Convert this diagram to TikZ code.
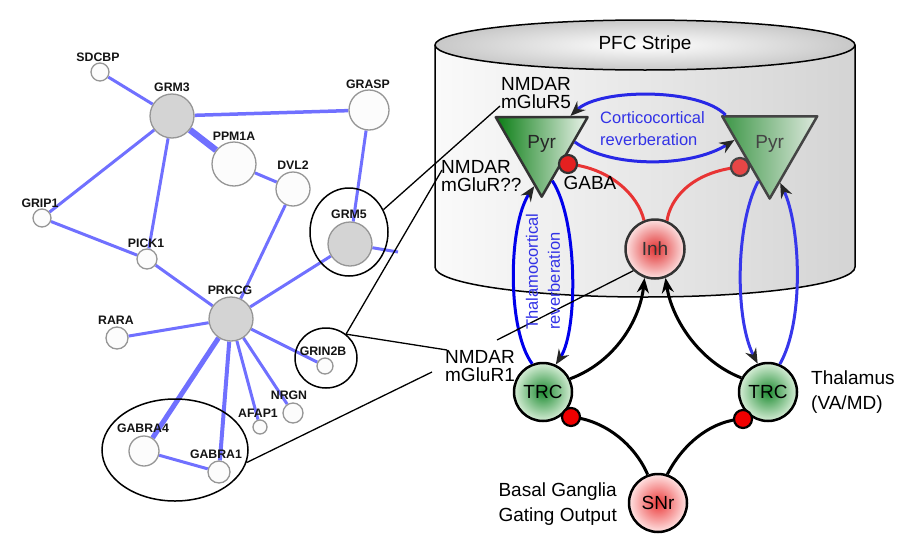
\documentclass[tikz,border=0pt]{standalone}
\usepackage{fontspec}
\setmainfont{Liberation Sans}
\usetikzlibrary{arrows.meta,shapes.geometric,backgrounds,calc}
\definecolor{netblue}{RGB}{112,112,255}
\definecolor{nodeedge}{RGB}{150,150,150}
\definecolor{nodewhite}{RGB}{252,252,252}
\definecolor{nodegray}{RGB}{212,212,212}
\definecolor{blueA}{RGB}{0,0,235}
\definecolor{blueB}{RGB}{55,55,235}
\definecolor{blueC}{RGB}{40,40,230}
\definecolor{bluetext}{RGB}{50,50,230}
\definecolor{inhred}{RGB}{232,52,52}
\definecolor{darkline}{RGB}{51,51,51}
\definecolor{darkline2}{RGB}{68,68,68}
\definecolor{cylleft}{RGB}{250,250,250}
\definecolor{cylright}{RGB}{212,212,212}
\definecolor{cyltop}{RGB}{200,200,200}
\definecolor{pyrLa}{RGB}{10,125,20}
\definecolor{pyrLb}{RGB}{235,243,235}
\definecolor{pyrRa}{RGB}{60,150,70}
\definecolor{pyrRb}{RGB}{222,233,222}
\definecolor{inhin}{RGB}{225,50,50}
\definecolor{inhout}{RGB}{252,225,225}
\definecolor{trcin}{RGB}{30,140,50}
\definecolor{trcout}{RGB}{215,238,215}
\definecolor{snrin}{RGB}{235,60,60}
\definecolor{snrout}{RGB}{255,228,228}
\definecolor{gabaA}{RGB}{228,32,32}
\definecolor{gabaB}{RGB}{230,70,70}
\definecolor{purered}{RGB}{240,0,0}
\begin{document}
\begin{tikzpicture}[x=1pt,y=-1pt,
 netnode/.style={circle,draw=nodeedge,line width=1.3pt,fill=nodewhite,inner sep=0pt},
 hub/.style={netnode,fill=nodegray},
 netlabel/.style={font=\bfseries\fontsize{12.3}{13}\selectfont,text=black!92,inner sep=0pt},
 netedge/.style={draw=netblue,line width=3pt},
 callout/.style={draw=black,line width=1.3pt},
 ring/.style={ellipse,draw=black,line width=1.5pt,inner sep=0pt},
 biglabel/.style={font=\fontsize{19}{18.5}\selectfont,inner sep=0pt},
 widelabel/.style={font=\fontsize{19}{24.5}\selectfont,inner sep=0pt},
 bluelabel/.style={font=\fontsize{16.5}{22}\selectfont,text=bluetext,inner sep=0pt,align=left},
 pyr/.style={regular polygon,regular polygon sides=3,shape border rotate=180,inner sep=0pt,line width=2.5pt,line join=round,font=\fontsize{19}{19}\selectfont},
 cell/.style={circle,minimum size=58pt,inner sep=0pt,line width=2.5pt,font=\fontsize{19}{19}\selectfont},
 arrowtip/.style={-{Stealth[length=15pt,width=12pt,inset=5pt,color=black!85]}},
 syn/.style={circle,minimum size=18pt,inner sep=0pt,line width=2.2pt}
]
\useasboundingbox (0,0) rectangle (920,549);

% ---------- PFC cylinder ----------
\shade[left color=cylleft,right color=cylright] (435,45) -- (435,267) arc[start angle=180,end angle=0,x radius=210,y radius=30] -- (855,45) -- cycle;
\draw[line width=1.5pt] (435,45) -- (435,267) arc[start angle=180,end angle=0,x radius=210,y radius=30] -- (855,45);
\shadedraw[inner color=white,outer color=cyltop,draw=black,line width=1.5pt] (645,45) ellipse[x radius=210,y radius=25];
\node[biglabel] (pfc) at (645,45) {PFC Stripe};

% ---------- network ----------
\node[netnode,minimum size=18pt] (sdcbp) at (100,72) {};
\node[hub,minimum size=44pt] (grm3) at (172,116) {};
\node[netnode,minimum size=40pt] (grasp) at (369,110) {};
\node[netnode,minimum size=44pt] (ppm1a) at (234,164) {};
\node[netnode,minimum size=34pt] (dvl2) at (293,189) {};
\node[netnode,minimum size=18pt] (grip1) at (42,218) {};
\node[netnode,minimum size=20pt] (pick1) at (147,259) {};
\node[hub,minimum size=44pt] (grm5) at (350,244) {};
\node[hub,minimum size=44pt] (prkcg) at (231,319) {};
\node[netnode,minimum size=22pt] (rara) at (117,338) {};
\node[netnode,minimum size=16pt] (grin2b) at (325,366) {};
\node[netnode,minimum size=20pt] (nrgn) at (293,413) {};
\node[netnode,minimum size=14pt] (afap1) at (260,427) {};
\node[netnode,minimum size=30pt] (gabra4) at (144,451) {};
\node[netnode,minimum size=22pt] (gabra1) at (219,472) {};
\coordinate (grm5out) at (398,252);

\node[netlabel] (lsdcbp) at (98,57) {SDCBP};
\node[netlabel] (lgrm3) at (172,87) {GRM3};
\node[netlabel] (lgrasp) at (368,84) {GRASP};
\node[netlabel] (lppm1a) at (234,136) {PPM1A};
\node[netlabel] (ldvl2) at (293,165) {DVL2};
\node[netlabel] (lgrip1) at (40,203) {GRIP1};
\node[netlabel] (lpick1) at (146,243) {PICK1};
\node[netlabel] (lgrm5) at (349,214) {GRM5};
\node[netlabel] (lprkcg) at (230,290) {PRKCG};
\node[netlabel] (lrara) at (116,320) {RARA};
\node[netlabel] (lgrin2b) at (323,351) {GRIN2B};
\node[netlabel] (lnrgn) at (289,395) {NRGN};
\node[netlabel] (lafap1) at (258,413) {AFAP1};
\node[netlabel] (lgabra4) at (143,428) {GABRA4};
\node[netlabel] (lgabra1) at (216,454) {GABRA1};

\begin{scope}[on background layer]
\draw[netedge] (sdcbp) -- (grm3);
\draw[netedge,line width=3.5pt] (grm3) -- (grasp);
\draw[netedge,line width=6.5pt] (grm3) -- (ppm1a);
\draw[netedge] (grm3) -- (grip1);
\draw[netedge] (grm3) -- (pick1);
\draw[netedge] (ppm1a) -- (dvl2);
\draw[netedge] (dvl2) -- (prkcg);
\draw[netedge] (grasp) -- (grm5);
\draw[netedge] (grm5) -- (prkcg);
\draw[netedge] (grm5) -- (grm5out);
\draw[netedge] (grip1) -- (pick1);
\draw[netedge] (pick1) -- (prkcg);
\draw[netedge] (prkcg) -- (rara);
\draw[netedge] (prkcg) -- (grin2b);
\draw[netedge] (prkcg) -- (nrgn);
\draw[netedge] (prkcg) -- (afap1);
\draw[netedge,line width=5pt] (prkcg) -- (gabra4);
\draw[netedge,line width=4pt] (prkcg) -- (gabra1);
\draw[netedge] (gabra4) -- (gabra1);
\end{scope}

\node[ring,minimum width=78pt,minimum height=88pt] (grm5ring) at (349,232) {};
\node[ring,minimum width=62pt,minimum height=60pt] (grinring) at (326,358) {};
\node[ring,minimum width=146pt,minimum height=102pt] (gabraring) at (175,450) {};

% ---------- circuit nodes ----------
\node[pyr,minimum size=106pt,draw=darkline,left color=pyrLa,right color=pyrLb,text=black!85] (pyrL) at (541.7,143.7) {Pyr};
\node[pyr,minimum size=109.7pt,draw=darkline2,left color=pyrRa,right color=pyrRb,text=darkline2] (pyrR) at (769.7,143.7) {Pyr};
\node[cell,draw=darkline,inner color=inhin,outer color=inhout,text=darkline,minimum size=59pt] (inh) at (655,249) {Inh};
\node[cell,draw=black,inner color=trcin,outer color=trcout] (trcL) at (543,392) {TRC};
\node[cell,draw=black,inner color=trcin,outer color=trcout] (trcR) at (768,392) {TRC};
\node[cell,draw=black,inner color=snrin,outer color=snrout] (snr) at (658,503) {SNr};

% ---------- connections ----------
\draw[inhred,line width=3pt] (inh.111) .. controls (638,195) and (610,168) .. (568,164);
\draw[inhred,line width=3pt] (inh.67) .. controls (670,200) and (690,172) .. (740,167);
\node[syn,draw=darkline,fill=gabaA] (gabaL) at (568,164) {};
\node[syn,draw=darkline2,fill=gabaB] (gabaR) at (740,167) {};

\draw[blueC,line width=3pt,arrowtip] (pyrR.147) .. controls (700,88) and (600,88) .. (pyrL.44);
\draw[blueC,line width=3pt,arrowtip] (pyrL.3) .. controls (610,168) and (690,168) .. (pyrR.174);

\draw[blueA,line width=3pt,arrowtip] (trcL.111) .. controls (507,330) and (508,225) .. (pyrL.-100);
\draw[blueA,line width=3pt,arrowtip] (pyrL.-74) .. controls (578,220) and (578,330) .. (trcL.65);
\draw[blueB,line width=3pt,arrowtip] (pyrR.-107) .. controls (735,225) and (735,320) .. (trcR.110);
\draw[blueB,line width=3pt,arrowtip] (trcR.67) .. controls (805,320) and (800,225) .. (pyrR.-75);

\draw[black,line width=3pt,-{Stealth[length=15pt,width=12pt,inset=5pt]}] (trcL.26) .. controls (615,362) and (640,320) .. (inh.-110);
\draw[black,line width=3pt,-{Stealth[length=15pt,width=12pt,inset=5pt]}] (trcR.152) .. controls (700,362) and (672,320) .. (inh.-70);

\draw[black,line width=3pt] (snr.110) .. controls (635,445) and (605,420) .. (571,417);
\draw[black,line width=3pt] (snr.72) .. controls (685,440) and (715,420) .. (743,419);
\node[syn,draw=black,fill=purered] (dotL) at (571,417) {};
\node[syn,draw=black,fill=purered] (dotR) at (743,419) {};

% ---------- callouts ----------
\coordinate (m5end) at (500,106);
\coordinate (mqqend) at (442,170);
\coordinate (m1end) at (447,350);
\coordinate (m1low) at (432,372);
\coordinate (m1top) at (497,340);
\draw[callout] (grm5ring.33) -- (m5end);
\draw[callout] (grinring.50) -- (mqqend);
\draw[callout] (grinring.50) -- (m1end);
\draw[callout] (gabraring.-10) -- (m1low);
\draw[callout] (inh.225) -- (m1top);

% ---------- labels ----------
\node[biglabel,align=center] (lm5) at (536,93) {NMDAR\\mGluR5};
\node[biglabel,align=left,anchor=west] (lmqq) at (441,176) {NMDAR\\mGluR??};
\node[biglabel,align=center] (lm1) at (480,366) {NMDAR\\mGluR1};
\node[biglabel] (lgaba) at (590,183) {GABA};
\node[widelabel,align=left,anchor=west] (lthal) at (811,392) {Thalamus\\(VA/MD)};
\node[widelabel,align=right,anchor=east] (lbg) at (617,504) {Basal Ganglia\\Gating Output};
\node[bluelabel,anchor=west] (lcc) at (600,129) {Corticocortical\\reverberation};
\node[bluelabel,rotate=90,anchor=west] (ltc) at (543,330) {Thalamocortical\\reverberation};
\end{tikzpicture}
\end{document}
